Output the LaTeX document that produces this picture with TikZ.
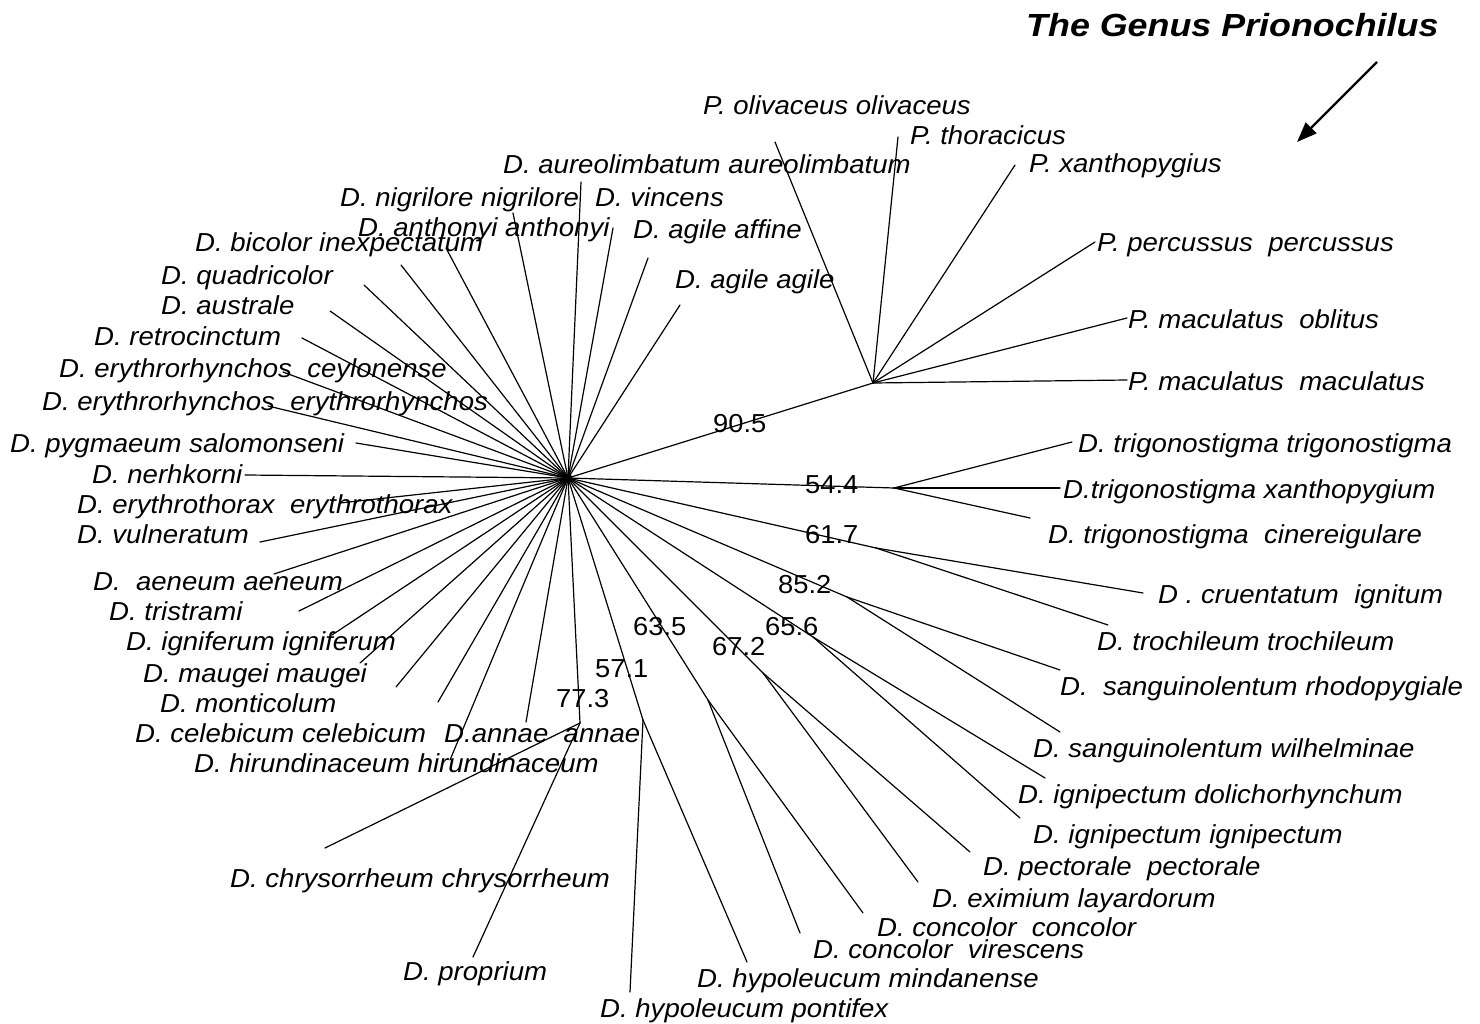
\documentclass[tikz,border=0pt]{standalone}
\usepackage{fontspec}
\setmainfont{Liberation Sans}
\newfontfamily\labfont{Liberation Sans}[FakeStretch=1.06]
\newfontfamily\numfont{Liberation Sans}[FakeStretch=1.05]
\newfontfamily\titfont{Liberation Sans}[FakeStretch=1.12]
\usetikzlibrary{arrows.meta}

\begin{document}
\begin{tikzpicture}[x=1pt,y=-1pt,
  branch/.style={line width=1.2pt, line cap=round},
  taxon/.style={anchor=base west, inner sep=0pt, font=\labfont\itshape\fontsize{26}{30}\selectfont},
  support/.style={anchor=base west, inner sep=0pt, font=\numfont\fontsize{26}{30}\selectfont},
  pointer/.style={line width=2.4pt, -{Triangle[length=20pt,width=15pt]}}
]
\useasboundingbox (0,0) rectangle (1480,1024);
\fill[white] (0,0) rectangle (1480,1024);

% ---------- hub and internal nodes ----------
\coordinate (hub) at (568,478);
\coordinate (n905) at (873,383);
\coordinate (n544) at (894,488);
\coordinate (n617) at (876,548);
\coordinate (n852) at (847,597);
\coordinate (n656) at (813,637);
\coordinate (n672) at (763,673);
\coordinate (n635) at (708,700);
\coordinate (n571) at (643,720);
\coordinate (n773) at (580,723);

% ---------- leaf ends: star around the hub ----------
\coordinate (aur) at (581,182);
\coordinate (nig) at (513,213);
\coordinate (vin) at (613,228);
\coordinate (ant) at (446,248);
\coordinate (bic) at (401,265);
\coordinate (aga) at (648,258);
\coordinate (agg) at (680,305);
\coordinate (qua) at (364,285);
\coordinate (aus) at (330,311);
\coordinate (ret) at (302,338);
\coordinate (ecey) at (283,372);
\coordinate (eery) at (268,406);
\coordinate (pyg) at (356,443);
\coordinate (ner) at (245,475);
\coordinate (eth) at (340,503);
\coordinate (vul) at (260,542);
\coordinate (aen) at (274,574);
\coordinate (tri) at (299,611);
\coordinate (ign) at (332,635);
\coordinate (mau) at (360,663);
\coordinate (mon) at (396,687);
\coordinate (cel) at (438,702);
\coordinate (hir) at (450,760);
\coordinate (ann) at (526,722);

% ---------- leaf ends inside clades ----------
\coordinate (poli) at (775,142);
\coordinate (ptho) at (898,137);
\coordinate (pxan) at (1015,165);
\coordinate (pper) at (1095,242);
\coordinate (pobl) at (1127,318);
\coordinate (pmac) at (1127,380);
\coordinate (ttri) at (1072,442);
\coordinate (txan) at (1060,488);
\coordinate (tcin) at (1030,518);
\coordinate (cru) at (1143,593);
\coordinate (tro) at (1108,625);
\coordinate (srho) at (1060,670);
\coordinate (swil) at (1060,732);
\coordinate (idol) at (1045,778);
\coordinate (iign) at (1020,818);
\coordinate (pec) at (970,852);
\coordinate (exi) at (918,882);
\coordinate (cco) at (863,913);
\coordinate (cvi) at (800,933);
\coordinate (hmin) at (747,962);
\coordinate (hpon) at (630,992);
\coordinate (chr) at (325,848);
\coordinate (pro) at (473,957);

% ---------- branches ----------
\foreach \leaf in {aur,nig,vin,ant,bic,aga,agg,qua,aus,ret,ecey,eery,pyg,ner,eth,vul,aen,tri,ign,mau,mon,cel,hir,ann}
  \draw[branch] (hub) -- (\leaf);
\foreach \inner in {n905,n544,n617,n852,n656,n672,n635,n571,n773}
  \draw[branch] (hub) -- (\inner);
\foreach \leaf in {poli,ptho,pxan,pper,pobl,pmac}
  \draw[branch] (n905) -- (\leaf);
\foreach \leaf in {ttri,txan,tcin}
  \draw[branch] (n544) -- (\leaf);
\draw[branch] (n617) -- (cru);
\draw[branch] (n617) -- (tro);
\draw[branch] (n852) -- (srho);
\draw[branch] (n852) -- (swil);
\draw[branch] (n656) -- (idol);
\draw[branch] (n656) -- (iign);
\draw[branch] (n672) -- (pec);
\draw[branch] (n672) -- (exi);
\draw[branch] (n635) -- (cco);
\draw[branch] (n635) -- (cvi);
\draw[branch] (n571) -- (hmin);
\draw[branch] (n571) -- (hpon);
\draw[branch] (n773) -- (chr);
\draw[branch] (n773) -- (pro);
\fill (hub) circle[radius=4.5pt];

% ---------- taxon labels ----------
\node[taxon] (Laur) at (503,174) {D. aureolimbatum aureolimbatum};
\node[taxon] (Lnig) at (340,207) {D. nigrilore nigrilore};
\node[taxon] (Lvin) at (595,207) {D. vincens};
\node[taxon] (Lant) at (358,237) {D. anthonyi anthonyi};
\node[taxon] (Laga) at (633,239) {D. agile affine};
\node[taxon] (Lbic) at (195,252) {D. bicolor inexpectatum};
\node[taxon] (Lagg) at (675,288) {D. agile agile};
\node[taxon] (Lqua) at (161,285) {D. quadricolor};
\node[taxon] (Laus) at (161,315) {D. australe};
\node[taxon] (Lret) at (94,345) {D. retrocinctum};
\node[taxon] (Lecey) at (59,377) {D. erythrorhynchos~ ceylonense};
\node[taxon] (Leery) at (42,410) {D. erythrorhynchos~ erythrorhynchos};
\node[taxon] (Lpyg) at (10,452) {D. pygmaeum salomonseni};
\node[taxon] (Lner) at (92,483) {D. nerhkorni};
\node[taxon] (Leth) at (77,513) {D. erythrothorax~ erythrothorax};
\node[taxon] (Lvul) at (77,543) {D. vulneratum};
\node[taxon] (Laen) at (93,590) {D.~ aeneum aeneum};
\node[taxon] (Ltri) at (109,620) {D. tristrami};
\node[taxon] (Lign) at (126,650) {D. igniferum igniferum};
\node[taxon] (Lmau) at (143,682) {D. maugei maugei};
\node[taxon] (Lmon) at (160,712) {D. monticolum};
\node[taxon] (Lcel) at (135,742) {D. celebicum celebicum};
\node[taxon] (Lann) at (444,742) {D.annae~ annae};
\node[taxon] (Lhir) at (194,772) {D. hirundinaceum hirundinaceum};
\node[taxon] (Lchr) at (230,887) {D. chrysorrheum chrysorrheum};
\node[taxon] (Lpro) at (403,980) {D. proprium};
\node[taxon] (Lhpon) at (600,1017) {D. hypoleucum pontifex};
\node[taxon] (Lhmin) at (697,987) {D. hypoleucum mindanense};
\node[taxon] (Lcvi) at (813,958) {D. concolor~ virescens};
\node[taxon] (Lcco) at (877,936) {D. concolor~ concolor};
\node[taxon] (Lexi) at (932,907) {D. eximium layardorum};
\node[taxon] (Lpec) at (983,875) {D. pectorale~ pectorale};
\node[taxon] (Liign) at (1033,843) {D. ignipectum ignipectum};
\node[taxon] (Lidol) at (1018,803) {D. ignipectum dolichorhynchum};
\node[taxon] (Lswil) at (1033,757) {D. sanguinolentum wilhelminae};
\node[taxon] (Lsrho) at (1060,695) {D.~ sanguinolentum rhodopygiale};
\node[taxon] (Ltro) at (1097,650) {D. trochileum trochileum};
\node[taxon] (Lcru) at (1158,603) {D . cruentatum~ ignitum};
\node[taxon] (Ltcin) at (1048,543) {D. trigonostigma~ cinereigulare};
\node[taxon] (Ltxan) at (1063,498) {D.trigonostigma xanthopygium};
\node[taxon] (Lttri) at (1078,452) {D. trigonostigma trigonostigma};
\node[taxon] (Lpmac) at (1128,390) {P. maculatus~ maculatus};
\node[taxon] (Lpobl) at (1128,328) {P. maculatus~ oblitus};
\node[taxon] (Lpper) at (1097,252) {P. percussus~ percussus};
\node[taxon] (Lpxan) at (1029,173) {P. xanthopygius};
\node[taxon] (Lptho) at (910,145) {P. thoracicus};
\node[taxon] (Lpoli) at (703,115) {P. olivaceus olivaceus};

% ---------- bootstrap values ----------
\node[support] (s905) at (713,432) {90.5};
\node[support] (s544) at (805,493) {54.4};
\node[support] (s617) at (805,543) {61.7};
\node[support] (s852) at (778,593) {85.2};
\node[support] (s635) at (633,635) {63.5};
\node[support] (s656) at (765,635) {65.6};
\node[support] (s672) at (712,655) {67.2};
\node[support] (s571) at (595,677) {57.1};
\node[support] (s773) at (556,707) {77.3};

% ---------- title and pointer ----------
\node[anchor=base west, inner sep=0pt, font=\titfont\bfseries\itshape\fontsize{32}{36}\selectfont] (title) at (1026,37) {The Genus Prionochilus};
\coordinate (ptail) at (1377,62);
\coordinate (ptip) at (1297,142);
\draw[pointer] (ptail) -- (ptip);
\end{tikzpicture}
\end{document}
